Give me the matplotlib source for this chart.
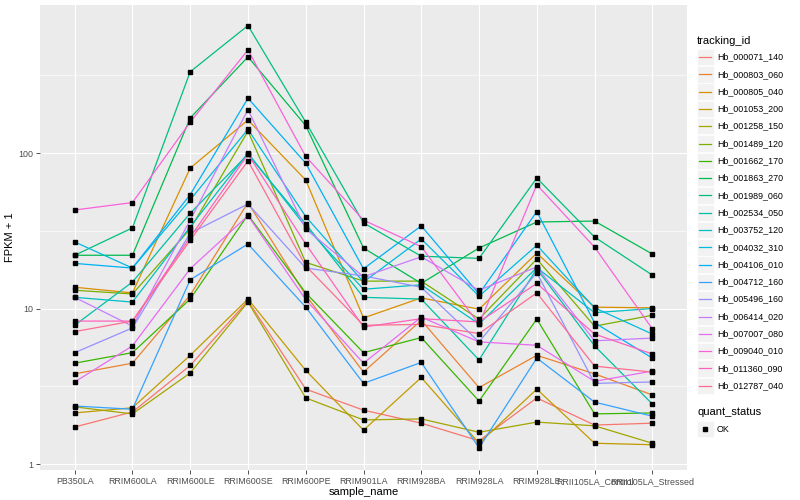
import matplotlib.pyplot as plt
from matplotlib.patches import Rectangle
from matplotlib.ticker import FixedLocator

SAMPLES = ["PB350LA", "RRIM600LA", "RRIM600LE", "RRIM600SE", "RRIM600PE",
           "RRIM901LA", "RRIM928BA", "RRIM928LA", "RRIM928LE",
           "RRII105LA_Control", "RRII105LA_Stressed"]

TRACKING_IDS = ["Hb_000071_140", "Hb_000803_060", "Hb_000805_040", "Hb_001053_200",
                "Hb_001258_150", "Hb_001489_120", "Hb_001662_170", "Hb_001863_270",
                "Hb_001989_060", "Hb_002534_050", "Hb_003752_120", "Hb_004032_310",
                "Hb_004106_010", "Hb_004712_160", "Hb_005496_160", "Hb_006414_020",
                "Hb_007007_080", "Hb_009040_010", "Hb_011360_090", "Hb_012787_040"]

# FPKM + 1 per sample
hb_000071_140 = [1.73, 2.16, 4.3, 11.2, 3.03, 2.22, 1.83, 1.41, 2.66, 1.78, 1.83]
hb_000803_060 = [3.8, 4.45, 12.2, 48, 12.2, 3.9, 8.4, 3.1, 5.0, 3.8, 2.78]
hb_000805_040 = [13.7, 12.6, 80, 163, 67, 8.7, 11.7, 9.9, 22.7, 10.2, 10.1]
hb_001053_200 = [2.13, 2.3, 5.0, 11.5, 4.0, 1.65, 3.6, 1.36, 3.03, 1.36, 1.33]
hb_001258_150 = [2.33, 2.1, 3.85, 11.0, 2.66, 1.92, 1.95, 1.6, 1.86, 1.76, 1.36]
hb_001489_120 = [13.1, 12.4, 32.5, 138, 19.8, 15, 15, 8.55, 20.8, 7.7, 9.05]
hb_001662_170 = [4.45, 5.2, 11.5, 40, 12.6, 5.2, 6.5, 2.54, 8.55, 2.1, 2.13]
hb_001863_270 = [22, 22, 168, 415, 150, 24.5, 14.5, 24.5, 36, 36.5, 22.4]
hb_001989_060 = [22, 33, 333, 660, 158, 35.5, 21.7, 21, 69, 28.8, 16.4]
hb_002534_050 = [7.8, 14.8, 41, 98, 35, 11.8, 11.5, 4.67, 18, 5.75, 2.43]
hb_003752_120 = [11.8, 11, 33.5, 100, 33.5, 13.3, 14.2, 7.95, 18.3, 9.4, 10]
hb_004032_310 = [26.8, 18.2, 50, 142, 39, 14.8, 28, 12.0, 25.5, 10.1, 6.85]
hb_004106_010 = [19.5, 18.2, 54, 225, 86, 18, 34, 12.4, 42, 8.1, 4.8]
hb_004712_160 = [2.36, 2.25, 15.3, 26, 10.2, 3.3, 4.5, 1.27, 4.8, 2.5, 2.03]
hb_005496_160 = [5.2, 7.5, 30.5, 47, 18.2, 16.2, 13.7, 6.1, 17, 3.3, 3.37]
hb_006414_020 = [11.8, 7.7, 37, 190, 32.5, 16, 21.5, 13.1, 18.5, 6.2, 6.45]
hb_007007_080 = [3.37, 5.75, 18, 39.5, 11.4, 4.45, 8.8, 6.1, 5.8, 3.4, 3.96]
hb_009040_010 = [43, 48, 158, 460, 95, 37, 25, 7.9, 62.5, 24.8, 7.4]
hb_011360_090 = [8.3, 8.3, 28.8, 98, 26, 7.6, 8.6, 8.2, 14.5, 6.85, 5.1]
hb_012787_040 = [7.1, 8.3, 27.5, 89, 18.8, 7.8, 7.9, 6.9, 12.6, 4.26, 3.9]

SERIES = [hb_000071_140, hb_000803_060, hb_000805_040, hb_001053_200, hb_001258_150,
          hb_001489_120, hb_001662_170, hb_001863_270, hb_001989_060, hb_002534_050,
          hb_003752_120, hb_004032_310, hb_004106_010, hb_004712_160, hb_005496_160,
          hb_006414_020, hb_007007_080, hb_009040_010, hb_011360_090, hb_012787_040]

# ggplot2 default hue palette for 20 levels
COLORS = ["#F8766D", "#EA8331", "#D89000", "#C09B00", "#A3A500", "#7CAE00", "#39B600",
          "#00BB4E", "#00BF7D", "#00C1A3", "#00BFC4", "#00BAE0", "#00B0F6", "#35A2FF",
          "#9590FF", "#C77CFF", "#E76BF3", "#FA62DB", "#FF62BC", "#FF6C91"]

FONT = ["Liberation Sans", "DejaVu Sans"]


def main():
    plt.rcParams["font.family"] = FONT
    fig = plt.figure(figsize=(8, 5), dpi=100)
    ax = fig.add_axes([40 / 800, 30 / 500, 647 / 800, 465 / 500])
    ax.set_facecolor("#EBEBEB")
    for s in ax.spines.values():
        s.set_visible(False)

    x = list(range(len(SAMPLES)))
    for vals, col in zip(SERIES, COLORS):
        ax.plot(x, vals, color=col, lw=0.9, zorder=3, solid_capstyle="butt")
    for vals in SERIES:
        ax.plot(x, vals, ls="none", marker="s", ms=2.4, color="black", zorder=4)

    ax.set_yscale("log")
    ax.set_ylim(0.915, 895)
    ax.set_xlim(-0.6, 10.6)
    ax.set_yticks([1, 10, 100])
    ax.set_yticklabels(["1", "10", "100"])
    ax.yaxis.set_minor_locator(FixedLocator([10 ** 0.5, 10 ** 1.5, 10 ** 2.5]))
    ax.set_xticks(x)
    ax.set_xticklabels(SAMPLES)
    ax.tick_params(which="major", length=3, width=0.6, color="#333333",
                   labelcolor="#4D4D4D", labelsize=6.4, pad=2)
    ax.tick_params(which="minor", length=0)
    ax.grid(which="major", color="white", lw=0.85, zorder=0)
    ax.grid(which="minor", axis="y", color="white", lw=0.4, zorder=0)
    ax.set_axisbelow(True)
    ax.set_xlabel("sample_name", fontsize=8, labelpad=1)
    ax.set_ylabel("FPKM + 1", fontsize=8, labelpad=2)

    # legend drawn in pixel coordinates
    lax = fig.add_axes([0, 0, 1, 1])
    lax.set_xlim(0, 800)
    lax.set_ylim(500, 0)
    lax.axis("off")
    lax.text(697, 41, "tracking_id", fontsize=8, va="center", ha="left")
    for i, (tid, col) in enumerate(zip(TRACKING_IDS, COLORS)):
        cy = 57 + 17.3 * i
        lax.add_patch(Rectangle((697, cy - 8.2), 16.5, 16.4, facecolor="#F2F2F2",
                                edgecolor="white", lw=0.5))
        lax.plot([699, 711], [cy, cy], color=col, lw=0.9)
        lax.text(717, cy, tid, fontsize=6.4, va="center", ha="left")
    lax.text(697, 412, "quant_status", fontsize=8, va="center", ha="left")
    lax.add_patch(Rectangle((697, 429 - 8.2), 16.5, 16.4, facecolor="#F2F2F2",
                            edgecolor="white", lw=0.5))
    lax.plot([705], [429], marker="s", ms=2.4, color="black")
    lax.text(717, 429, "OK", fontsize=6.4, va="center", ha="left")

    fig.savefig("out.png", dpi=100)


if __name__ == "__main__":
    main()
